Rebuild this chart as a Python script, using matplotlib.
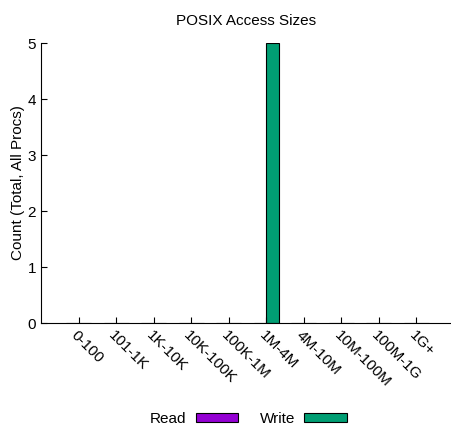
import numpy as np
import matplotlib.pyplot as plt
from matplotlib.patches import Patch

plt.rcParams['font.family'] = ['Liberation Sans', 'DejaVu Sans']

# access size bins and counts
bins = ["0-100", "101-1K", "1K-10K", "10K-100K", "100K-1M",
        "1M-4M", "4M-10M", "10M-100M", "100M-1G", "1G+"]
read_counts = [0, 0, 0, 0, 0, 0, 0, 0, 0, 0]
write_counts = [0, 0, 0, 0, 0, 5, 0, 0, 0, 0]

read_color = "#9400D3"
write_color = "#009E73"

fig = plt.figure(figsize=(4.52, 4.28), dpi=100)
ax = fig.add_axes([0.0907, 0.2453, 0.9093, 0.6542])

x = np.arange(len(bins))
w = 1 / 3
ax.bar(x - w, read_counts, width=w, align="edge", color=read_color,
       edgecolor="black", linewidth=0.8)
ax.bar(x, write_counts, width=w, align="edge", color=write_color,
       edgecolor="black", linewidth=0.8)

ax.set_xlim(-1, 9.95)
ax.set_ylim(0, 5)
ax.set_yticks([0, 1, 2, 3, 4, 5])
ax.set_xticks(x)
ax.set_xticklabels(bins, rotation=-45, ha="left", va="top",
                   rotation_mode="anchor", fontsize=11)
ax.tick_params(axis="both", direction="in", length=4, width=0.8,
               labelsize=11)
ax.tick_params(axis="x", pad=4)

ax.spines["top"].set_visible(False)
ax.spines["right"].set_visible(False)

ax.set_title("POSIX Access Sizes", fontsize=11, pad=13)
ax.set_ylabel("Count (Total, All Procs)", fontsize=11, labelpad=2)

handles = [Patch(facecolor=read_color, edgecolor="black", linewidth=0.8),
           Patch(facecolor=write_color, edgecolor="black", linewidth=0.8)]
fig.legend(handles, ["Read", "Write"], loc="center",
           bbox_to_anchor=(0.55, 0.021), ncol=2, frameon=False,
           markerfirst=False, handlelength=2.8, handleheight=0.45,
           columnspacing=1.4, handletextpad=0.6, fontsize=11)

fig.savefig("out.png", dpi=100)
